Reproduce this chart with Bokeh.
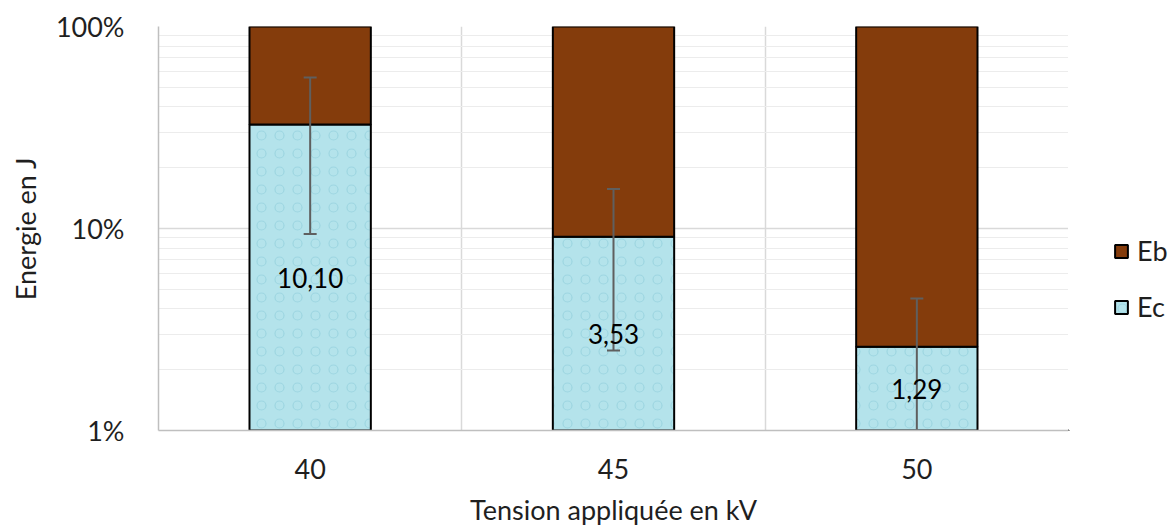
import math
from bokeh.plotting import figure
from bokeh.layouts import row
from bokeh.models import (Range1d, FixedTicker, CustomJSTickFormatter, Legend, LegendItem,
                          ColumnDataSource)
from bokeh.core.properties import value
from bokeh.embed import file_html
from bokeh.resources import INLINE

# ---- data ----
categories = ["40", "45", "50"]          # Tension appliquée en kV
series = ["Eb", "Ec"]                    # legend order
ec_joules = [10.10, 3.53, 1.29]          # Ec (labelled values, J)
eb_joules = [20.8, 35.3, 48.3]           # Eb (J, estimated from bar split)
ec_err_pct = [23.3, 6.6, 1.9]            # error bar half-length, in % of total

FONT = "Lato"
TXT = "#1f1f1f"
EB_COLOR = "#843c0c"
EC_COLOR = "#b4e3eb"
H = 528

x = [i + 0.5 for i in range(len(categories))]
ec_pct = [100.0 * c / (c + b) for c, b in zip(ec_joules, eb_joules)]
err_lo = [p_ - e for p_, e in zip(ec_pct, ec_err_pct)]
err_hi = [p_ + e for p_, e in zip(ec_pct, ec_err_pct)]
label_y = [math.sqrt(1.0 * p_) for p_ in ec_pct]
labels = [f"{v:.2f}".replace(".", ",") for v in ec_joules]

src = ColumnDataSource(dict(x=x, ec=ec_pct, lo=err_lo, hi=err_hi, ly=label_y, lab=labels,
                            base=[1.0] * len(x), top=[100.0] * len(x)))

ec_style = dict(fill_color=EC_COLOR, line_color="black", line_width=2,
                hatch_pattern="ring", hatch_color="#86c8d6", hatch_alpha=0.5,
                hatch_scale=18, hatch_weight=1.2)
eb_style = dict(fill_color=EB_COLOR, line_color="black", line_width=2)

p = figure(width=1068, height=H, output_backend="svg", toolbar_location=None,
           y_axis_type="log", x_range=Range1d(0, len(categories)), y_range=Range1d(1, 100),
           min_border_left=158, min_border_top=26, min_border_right=0, min_border_bottom=98)
p.outline_line_color = None
p.background_fill_color = "white"
p.border_fill_color = "white"

# Ec bars (light water-like fill) and Eb bars stacked on top (100 % stacked)
p.vbar(x="x", bottom="base", top="ec", width=0.4, source=src, **ec_style)
p.vbar(x="x", bottom="ec", top="top", width=0.4, source=src, **eb_style)

# error bars
p.segment(x0="x", y0="lo", x1="x", y1="hi", source=src, line_color="#5f5f5f", line_width=2)
p.dash(x="x", y="hi", size=13, source=src, line_color="#5f5f5f", line_width=2)
p.dash(x="x", y="lo", size=13, source=src, line_color="#5f5f5f", line_width=2)

# data labels
p.text(x="x", y="ly", text="lab", source=src, text_align="center", text_baseline="middle",
       text_font=value(FONT), text_font_size="26px", text_color="black")

# axes
p.yaxis.ticker = FixedTicker(ticks=[1, 10, 100],
                             minor_ticks=[2, 3, 4, 5, 6, 7, 8, 9, 20, 30, 40, 50, 60, 70, 80, 90])
p.yaxis.formatter = CustomJSTickFormatter(code="return tick + '%';")
p.xaxis.ticker = FixedTicker(ticks=x)
p.xaxis.major_label_overrides = {xi: c for xi, c in zip(x, categories)}

for ax in (p.xaxis[0], p.yaxis[0]):
    ax.major_tick_line_color = None
    ax.minor_tick_line_color = None
    ax.axis_line_color = "#bfbfbf"
    ax.axis_line_width = 1.5
    ax.major_label_text_font = FONT
    ax.major_label_text_font_size = "27px"
    ax.major_label_text_color = TXT
    ax.axis_label_text_font = FONT
    ax.axis_label_text_font_size = "27px"
    ax.axis_label_text_font_style = "normal"
    ax.axis_label_text_color = TXT

p.yaxis.axis_label = "Energie en J"
p.yaxis.major_label_standoff = 28
p.yaxis.axis_label_standoff = 11
p.xaxis.axis_label = "Tension appliquée en kV"
p.xaxis.major_label_standoff = 22
p.xaxis.axis_label_standoff = 11

# grids
p.xgrid.ticker = FixedTicker(ticks=list(range(len(categories) + 1)))
p.xgrid.grid_line_color = "#d9d9d9"
p.xgrid.grid_line_width = 1.5
p.ygrid.grid_line_color = "#d9d9d9"
p.ygrid.grid_line_width = 1.5
p.ygrid.minor_grid_line_color = "#ececec"
p.ygrid.minor_grid_line_width = 1.2

# legend in a narrow companion panel on the right
lg = figure(width=100, height=H, output_backend="svg", toolbar_location=None,
            x_range=Range1d(0, 1), y_range=Range1d(0, 1),
            min_border=0, x_axis_location=None, y_axis_location=None)
lg.outline_line_color = None
lg.grid.visible = False
lg.border_fill_color = "white"
# proxy renderers (placed outside the visible range) that only supply legend swatches
r_eb = lg.vbar(x=[-5], top=[-5], bottom=[-6], width=0.4, **eb_style)
r_ec = lg.vbar(x=[-5], top=[-5], bottom=[-6], width=0.4, **ec_style)
legend = Legend(items=[LegendItem(label=s, renderers=[r]) for s, r in zip(series, [r_eb, r_ec])],
                location=(45, 107), orientation="vertical",
                glyph_width=16, glyph_height=16, label_standoff=8, spacing=23,
                label_height=30, padding=0, margin=0,
                border_line_color=None, background_fill_alpha=0,
                label_text_font=FONT, label_text_font_size="27px", label_text_color=TXT)
lg.add_layout(legend, "center")

layout = row(p, lg, spacing=0)
open("out.html", "w").write(file_html(layout, INLINE))
